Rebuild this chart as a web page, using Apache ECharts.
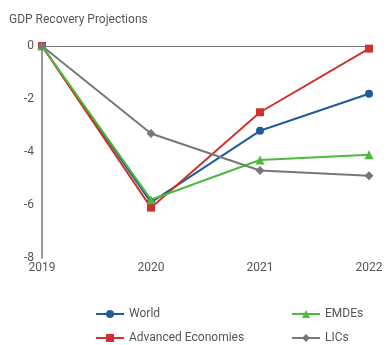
<!DOCTYPE html>
<html>
<head>
<meta charset="utf-8">
<script src="https://cdn.jsdelivr.net/npm/echarts@6/dist/echarts.min.js"></script>
<style>
  html, body { margin: 0; padding: 0; background: #fff; }
  #chart { width: 392px; height: 345px; }
</style>
</head>
<body>
<div id="chart"></div>
<script>
// Projected GDP gap relative to 2019 (percent)
const years = ['2019', '2020', '2021', '2022'];
const world = [0, -5.9, -3.2, -1.8];
const advanced = [0, -6.1, -2.5, -0.1];
const emdes = [0, -5.8, -4.3, -4.1];
const lics = [0, -3.3, -4.7, -4.9];
const yTicks = [0, -2, -4, -6, -8];

const chart = echarts.init(document.getElementById('chart'));
const font = 'Roboto, "Noto Sans", sans-serif';

function line(name, data, color, symbol, size) {
  return {
    name, type: 'line', data,
    xAxisIndex: 0,
    symbol, symbolSize: size,
    lineStyle: { color, width: 2 },
    itemStyle: { color },
    z: 3
  };
}

const legendBase = {
  orient: 'vertical', top: 308, padding: 0, itemGap: 12,
  itemWidth: 28, itemHeight: 10,
  textStyle: { fontFamily: font, fontSize: 12, color: '#555' }
};

chart.setOption({
  animation: false,
  title: {
    text: 'GDP Recovery Projections',
    left: 4, top: 9,
    textStyle: { fontFamily: font, fontSize: 12, fontWeight: 'normal', color: '#555' }
  },
  grid: { left: 42, right: 23, top: 46, bottom: 87 },
  legend: [
    Object.assign({ data: ['World', 'Advanced Economies'], left: 95 }, legendBase),
    Object.assign({ data: ['EMDEs', 'LICs'], left: 291 }, legendBase)
  ],
  xAxis: [
    {
      type: 'category', data: years, boundaryGap: false, position: 'bottom',
      axisLine: { show: false }, axisTick: { show: false },
      axisLabel: { fontFamily: font, fontSize: 12, color: '#555', margin: 4 },
      splitLine: { show: false }
    },
    {
      type: 'category', data: years, boundaryGap: false, position: 'top',
      axisLine: { show: true, onZero: false, lineStyle: { color: '#777', width: 1 } },
      axisTick: { show: false }, axisLabel: { show: false },
      splitLine: { show: false }
    }
  ],
  yAxis: {
    type: 'value', min: yTicks[yTicks.length - 1], max: yTicks[0], interval: 2,
    axisLine: { show: true, lineStyle: { color: '#999', width: 2 } },
    axisTick: { show: false },
    axisLabel: { fontFamily: font, fontSize: 12, color: '#555', margin: 8 },
    splitLine: { show: false }
  },
  series: [
    line('World', world, '#1f5c99', 'circle', 8),
    line('Advanced Economies', advanced, '#d0312d', 'rect', 8),
    line('EMDEs', emdes, '#4cbb3c', 'triangle', 9),
    line('LICs', lics, '#777777', 'diamond', 9)
  ]
});
</script>
</body>
</html>
